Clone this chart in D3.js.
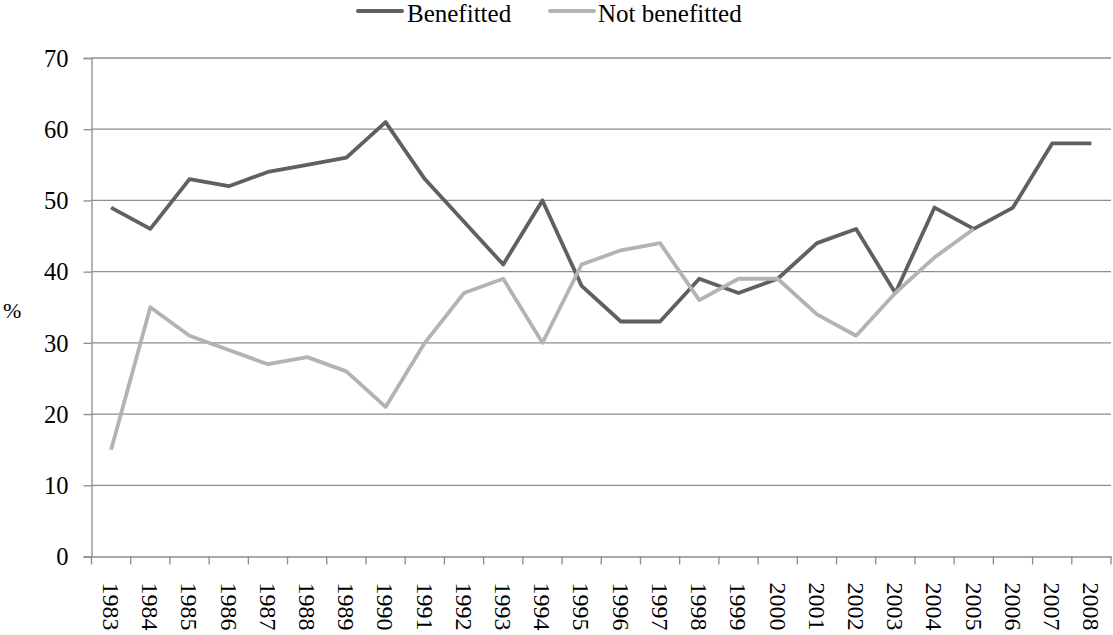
<!DOCTYPE html>
<html><head><meta charset="utf-8">
<script src="https://cdn.jsdelivr.net/npm/d3@7"></script>
<style>body{margin:0;background:#fff}</style>
</head><body>
<svg id="c" width="1113" height="635"></svg>
<script>
const years = ["1983","1984","1985","1986","1987","1988","1989","1990","1991","1992","1993","1994","1995","1996","1997","1998","1999","2000","2001","2002","2003","2004","2005","2006","2007","2008"];
const benefitted = [49,46,53,52,54,55,56,61,53,47,41,50,38,33,33,39,37,39,44,46,37,49,46,49,58,58];
const notBenefitted = [15,35,31,29,27,28,26,21,30,37,39,30,41,43,44,36,39,39,34,31,37,42,46,null,null,null];
const yTicks = [0,10,20,30,40,50,60,70];
const seriesNames = ["Benefitted","Not benefitted"];
const colors = ["#606060","#b3b3b3"];
const FONT = "'Liberation Serif', serif";

const svg = d3.select("#c");
const L = 91.5, R = 1111, T = 58, B = 556.5;
const x = d3.scaleBand().domain(years).range([L, R]);
const y = d3.scaleLinear().domain([0,70]).range([B, T]);

svg.append("g").selectAll("line").data(yTicks.filter(d=>d>0)).join("line")
  .attr("x1", L).attr("x2", R).attr("y1", d=>y(d)).attr("y2", d=>y(d))
  .attr("stroke","#8c8c8c").attr("stroke-width",1.3);

const ya = svg.append("g").attr("transform",`translate(${L},0)`)
  .call(d3.axisLeft(y).tickValues(yTicks).tickSize(8).tickPadding(15))
  .attr("font-family", FONT).attr("font-size", 24.5);
ya.select(".domain").attr("stroke","#8c8c8c").attr("stroke-width",1.3);
ya.selectAll(".tick line").attr("stroke","#8c8c8c").attr("stroke-width",1.3);
ya.selectAll("text").attr("dy","0.34em").attr("fill","#000");

const xa = svg.append("g").attr("transform",`translate(0,${B})`)
  .call(d3.axisBottom(x).tickSize(0).tickPadding(0))
  .attr("font-family", FONT).attr("font-size", 24);
xa.select(".domain").attr("stroke","#8c8c8c").attr("stroke-width",1.3);
xa.selectAll(".tick text").attr("transform","translate(0,26) rotate(90)")
  .attr("text-anchor","start").attr("dy","0.34em").attr("y",0).attr("x",0).attr("fill","#000");
const bounds = years.map(d=>x(d)).concat([R]);
svg.append("g").selectAll("line").data(bounds).join("line")
  .attr("x1",d=>d).attr("x2",d=>d).attr("y1",B).attr("y2",B+8)
  .attr("stroke","#8c8c8c").attr("stroke-width",1.3);

const line = d3.line().defined(d=>d[1]!=null)
  .x(d=>x(d[0])+x.bandwidth()/2).y(d=>y(d[1]));
[benefitted, notBenefitted].forEach((arr,i)=>{
  svg.append("path").datum(years.map((yr,j)=>[yr,arr[j]]))
    .attr("d",line).attr("fill","none").attr("stroke",colors[i])
    .attr("stroke-width",3.8).attr("stroke-linejoin","round");
});

const leg = [{x:358,tx:407},{x:550,tx:598}];
seriesNames.forEach((n,i)=>{
  svg.append("line").attr("x1",leg[i].x).attr("x2",leg[i].x+44).attr("y1",11).attr("y2",11)
    .attr("stroke",colors[i]).attr("stroke-width",4).attr("stroke-linecap","round");
  svg.append("text").attr("x",leg[i].tx).attr("y",22)
    .attr("font-family",FONT).attr("font-size",25).text(n);
});
svg.append("text").attr("x",3).attr("y",318).attr("font-family",FONT).attr("font-size",22).text("%");
</script>
</body></html>
